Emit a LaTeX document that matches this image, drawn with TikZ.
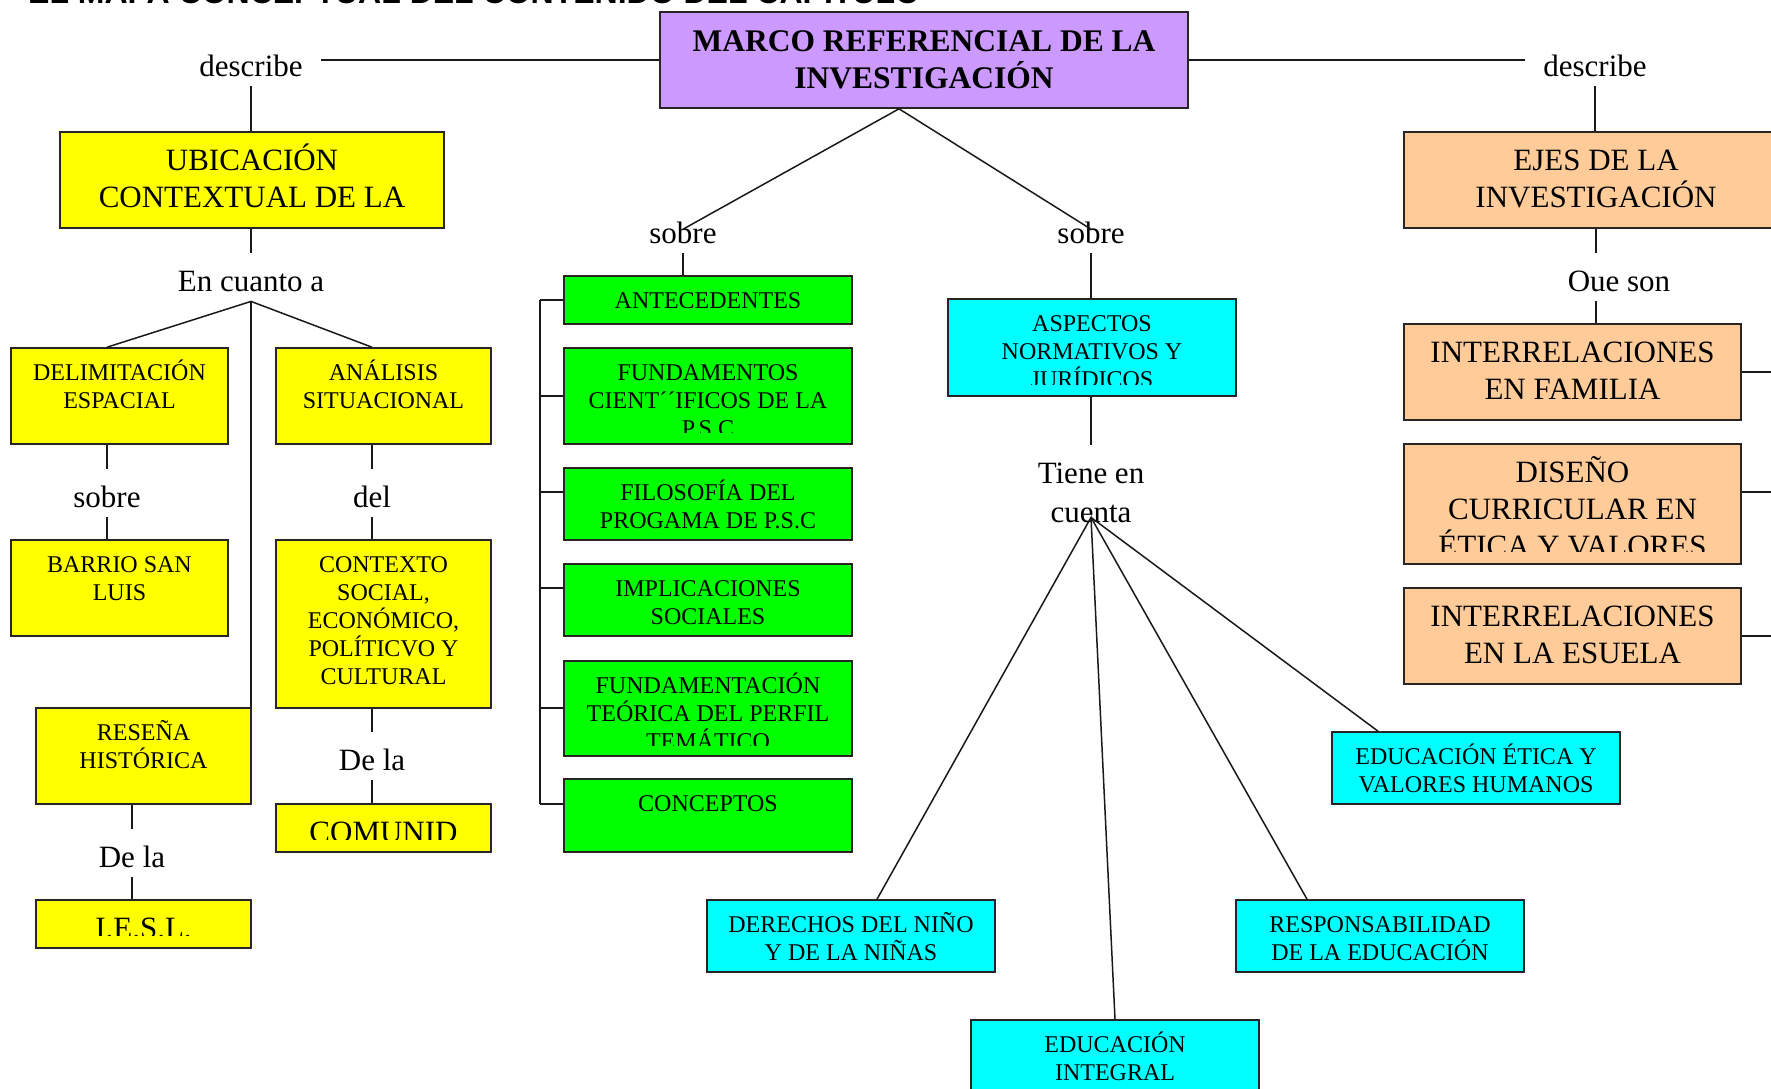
\documentclass[tikz,border=0pt]{standalone}
\usepackage{fontspec}
\setmainfont{Liberation Serif}
\newfontfamily\hdfont{Liberation Sans}
\usetikzlibrary{fit}
\definecolor{marcopurple}{HTML}{CC99FF}
\definecolor{ejesorange}{HTML}{FFCC99}
\definecolor{mapyellow}{HTML}{FFFF00}
\definecolor{mapgreen}{HTML}{00FF00}
\definecolor{mapcyan}{HTML}{00FFFF}
\newcommand\ttlfnt{\fontsize{31.5}{37}\selectfont\bfseries}
\newcommand\bigfnt{\fontsize{31}{37}\selectfont}
\newcommand\boxfnt{\fontsize{24}{28}\selectfont}
\newcommand\lblfnt{\fontsize{31}{39}\selectfont}
\newcommand\lblstrut{\rule[-8pt]{0pt}{44pt}}
\def\boxstruth{24pt}
\tikzset{
  strut h/.store in=\boxstruth,
  % boxes of the map
  mapbox/.style={draw=black!85, line width=1.6pt, inner sep=0pt},
  ybox/.style={mapbox, fill=mapyellow},
  gbox/.style={mapbox, fill=mapgreen},
  cbox/.style={mapbox, fill=mapcyan},
  obox/.style={mapbox, fill=ejesorange},
  % text inside the boxes, set from the top
  smalltxt/.style={font=\boxfnt, align=center, inner sep=0pt, yshift=-9pt, strut h=24pt},
  bigtxt/.style={font=\bigfnt, align=center, inner sep=0pt, yshift=-8pt, strut h=31pt},
  % linking words
  lbl/.style={font=\lblfnt, align=center, inner xsep=18pt, inner ysep=2pt, anchor=north,
    execute at begin node={\lblstrut}},
  link/.style={line width=1.5pt, draw=black!90},
}
% text of a box, cut off near its lower edge
\newcommand\boxtext[4][10pt]{%
  \begin{scope}
    \clip (#2.north west) rectangle ([yshift=#1]#2.south east);
    \node[#3, anchor=north] at (#2.north) {\rule{0pt}{\boxstruth}#4};
  \end{scope}}

\begin{document}
\begin{tikzpicture}[x=1pt,y=-1pt]
\useasboundingbox (0,0) rectangle (1771,1088);
\clip (0,0) rectangle (1771,1088);

% heading, cut by the top edge
\node[anchor=base west, inner sep=0pt, font={\fontsize{32}{38}\selectfont\hdfont\bfseries}] (hdr) at (28,3) {EL MAPA CONCEPTUAL DEL CONTENIDO DEL CAPÍTULO};

\node[mapbox, fill=marcopurple, minimum width=528pt, minimum height=96pt, font=\ttlfnt, align=center] (marco) at (924,60) {MARCO REFERENCIAL DE LA\\INVESTIGACIÓN};

% left branch
\node[ybox, fit={(60,132) (444,228)}] (ubic) {};
\boxtext{ubic}{bigtxt}{UBICACIÓN\\CONTEXTUAL DE LA}
\node[ybox, fit={(11,348) (228,444)}] (delim) {};
\boxtext{delim}{smalltxt}{DELIMITACIÓN\\ESPACIAL}
\node[ybox, fit={(276,348) (491,444)}] (anal) {};
\boxtext{anal}{smalltxt}{ANÁLISIS\\SITUACIONAL}
\node[ybox, fit={(11,540) (228,636)}] (barrio) {};
\boxtext{barrio}{smalltxt}{BARRIO SAN\\LUIS}
\node[ybox, fit={(276,540) (491,708)}] (contexto) {};
\boxtext{contexto}{smalltxt}{CONTEXTO\\SOCIAL,\\ECONÓMICO,\\POLÍTICVO Y\\CULTURAL}
\node[ybox, fit={(276,804) (491,852)}] (comunid) {};
\boxtext[13pt]{comunid}{bigtxt}{COMUNID}
\node[ybox, fit={(36,708) (251,804)}] (resena) {};
\boxtext{resena}{smalltxt}{RESEÑA\\HISTÓRICA}
\node[ybox, fit={(36,900) (251,948)}] (iesl) {};
\boxtext[13pt]{iesl}{bigtxt}{I.E.S.L.}

% middle branch
\node[gbox, fit={(564,276) (852,324)}] (ant) {};
\boxtext{ant}{smalltxt}{ANTECEDENTES}
\node[gbox, fit={(564,348) (852,444)}] (fund) {};
\boxtext[12pt]{fund}{smalltxt}{FUNDAMENTOS\\CIENT´´IFICOS DE LA\\P.S.C}
\node[gbox, fit={(564,468) (852,540)}] (filo) {};
\boxtext{filo}{smalltxt}{FILOSOFÍA DEL\\PROGAMA DE P.S.C}
\node[gbox, fit={(564,564) (852,636)}] (impl) {};
\boxtext{impl}{smalltxt}{IMPLICACIONES\\SOCIALES}
\node[gbox, fit={(564,661) (852,756)}] (fteo) {};
\boxtext[11pt]{fteo}{smalltxt}{FUNDAMENTACIÓN\\TEÓRICA DEL PERFIL\\TEMÁTICO}
\node[gbox, fit={(564,779) (852,852)}] (conc) {};
\boxtext{conc}{smalltxt}{CONCEPTOS}

\node[cbox, fit={(948,299) (1236,396)}] (aspectos) {};
\boxtext[12pt]{aspectos}{smalltxt}{ASPECTOS\\NORMATIVOS Y\\JURÍDICOS}
\node[cbox, fit={(707,900) (995,972)}] (derechos) {};
\boxtext{derechos}{smalltxt}{DERECHOS DEL NIÑO\\Y DE LA NIÑAS}
\node[cbox, fit={(971,1020) (1259,1100)}] (integral) {};
\boxtext{integral}{smalltxt}{EDUCACIÓN\\INTEGRAL}
\node[cbox, fit={(1236,900) (1524,972)}] (respons) {};
\boxtext{respons}{smalltxt}{RESPONSABILIDAD\\DE LA EDUCACIÓN}
\node[cbox, fit={(1332,732) (1620,804)}] (etica) {};
\boxtext{etica}{smalltxt}{EDUCACIÓN ÉTICA Y\\VALORES HUMANOS}

% right branch
\node[obox, fit={(1404,132) (1788,228)}] (ejes) {};
\boxtext{ejes}{bigtxt}{EJES DE LA\\INVESTIGACIÓN}
\node[obox, fit={(1404,324) (1741,420)}] (famil) {};
\boxtext{famil}{bigtxt}{INTERRELACIONES\\EN FAMILIA}
\node[obox, fit={(1404,444) (1741,564)}] (diseno) {};
\boxtext[13pt]{diseno}{bigtxt}{DISEÑO\\CURRICULAR EN\\ÉTICA Y VALORES}
\node[obox, fit={(1404,588) (1741,684)}] (escuela) {};
\boxtext{escuela}{bigtxt}{INTERRELACIONES\\EN LA ESUELA}

% linking words
\node[lbl] (descL) at (251,38) {describe};
\node[lbl] (descR) at (1595,38) {describe};
\node[lbl] (cuanto) at (251,253) {En cuanto a};
\node[lbl] (sobreA) at (107,469) {sobre};
\node[lbl] (delAn) at (372,469) {del};
\node[lbl] (delaCom) at (372,732) {De la};
\node[lbl] (delaIes) at (132,829) {De la};
\node[lbl] (sobreAnt) at (683,205) {sobre};
\node[lbl] (sobreAsp) at (1091,205) {sobre};
\node[lbl] (tiene) at (1091,445) {\lblstrut Tiene en\\cuenta};
\node[lbl] (queSon) at (1619,253) {Oue son};
\coordinate (fan) at ([yshift=15pt]tiene.south);

% connectors
\draw[link] (marco.west) -- (marco.west -| descL.east);
\draw[link] (marco.east) -- (marco.east -| descR.west);
\draw[link] (descL.south) -- (descL.south |- ubic.north);
\draw[link] (descR.south) -- (descR.south |- ejes.north);

\draw[link] (cuanto.north |- ubic.south) -- (cuanto.north);
\draw[link] (sobreA.north |- delim.north) -- (cuanto.south) -- (delAn.north |- anal.north);
\draw[link] (cuanto.south) -- (cuanto.south |- resena.north);
\draw[link] (sobreA.north |- delim.south) -- (sobreA.north);
\draw[link] (sobreA.south) -- (sobreA.south |- barrio.north);
\draw[link] (delAn.north |- anal.south) -- (delAn.north);
\draw[link] (delAn.south) -- (delAn.south |- contexto.north);
\draw[link] (delaCom.north |- contexto.south) -- (delaCom.north);
\draw[link] (delaCom.south) -- (delaCom.south |- comunid.north);
\draw[link] (delaIes.north |- resena.south) -- (delaIes.north);
\draw[link] (delaIes.south) -- (delaIes.south |- iesl.north);

\draw[link] (sobreAnt.center) -- ([xshift=-25pt]marco.south) -- (sobreAsp.center);
\draw[link] (sobreAnt.south) -- (sobreAnt.south |- ant.north);
\draw[link] (sobreAsp.south) -- (sobreAsp.south |- aspectos.north);
\draw[link] (540,300) -- (540,804);
\foreach \n/\y in {ant/300, fund/396, filo/492, impl/588, fteo/708, conc/804}
  \draw[link] (540,\y) -- (\n.west |- 540,\y);

\draw[link] (tiene.north |- aspectos.south) -- (tiene.north);
\draw[link] ([xshift=26pt]derechos.north) -- (fan) -- (integral.north);
\draw[link] (fan) -- ([xshift=-73pt]respons.north);
\draw[link] (fan) -- ([xshift=-98pt]etica.north);

\draw[link] (ejes.south) -- (ejes.south |- queSon.north);
\draw[link] (ejes.south |- queSon.south) -- (ejes.south |- famil.north);
\draw[link] (famil.east) -- ++(40,0);
\draw[link] ([yshift=12pt]diseno.east) -- ++(40,0);
\draw[link] (escuela.east) -- ++(40,0);
\end{tikzpicture}
\end{document}
